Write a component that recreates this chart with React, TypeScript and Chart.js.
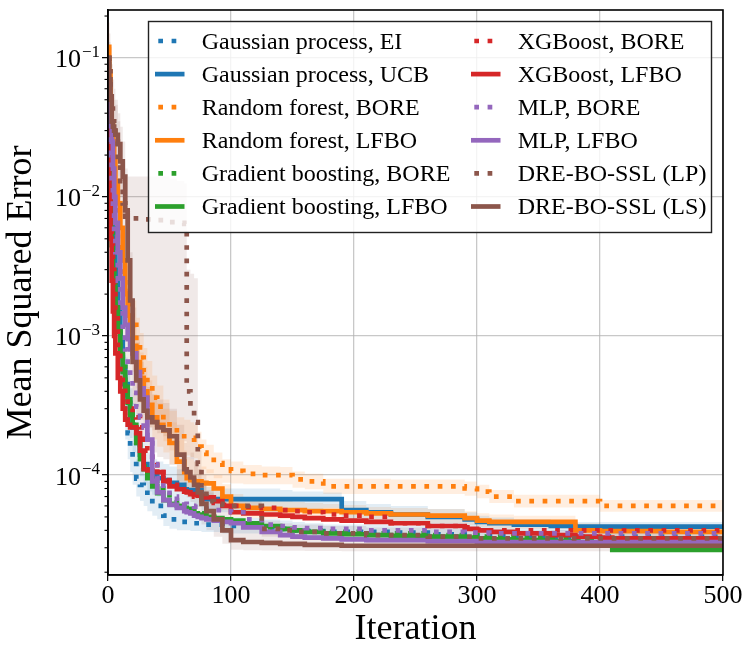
import { useEffect, useRef } from 'react';
import { Chart, registerables, type Plugin } from 'chart.js';

Chart.register(...registerables);

const FONT = '"Liberation Serif", "DejaVu Serif", serif';

// Shared iteration grid (each value holds until the next iteration in the grid)
const ITERS = [
  0, 1, 2, 3, 4, 5, 6,
  8, 10, 12, 14, 16, 18, 20,
  23, 26, 29, 32, 36, 40,
  45, 50, 56, 62, 64, 67, 70, 73, 76, 80,
  86, 93, 100,
  110, 125, 140, 150, 160, 175, 190,
  210, 230, 260, 290, 300, 310, 330, 360, 380, 400, 410, 450, 500,
];

const X_TICK_STEP = 100;
const Y_TICKS = [1e-4, 1e-3, 1e-2, 1e-1];
const Y_MIN = 1.91e-5;
const Y_MAX = 0.221;

// Gaussian process, EI
const GP_EI = [
  9e-2, 4e-2, 1.5e-2, 8e-3, 5e-3, 3e-3, 2e-3,
  1.1e-3, 7e-4, 4.5e-4, 3e-4, 2e-4, 1.6e-4, 1.2e-4,
  9.4e-5, 8.5e-5, 7.8e-5, 7e-5, 6.5e-5, 6e-5,
  5.1e-5, 4.8e-5, 4.6e-5, 4.6e-5, 4.6e-5, 4.5e-5, 4.5e-5, 4.5e-5, 4.4e-5, 4.4e-5,
  4.4e-5, 4.3e-5, 4.3e-5,
  4.3e-5, 4.2e-5, 4.1e-5, 4.0e-5, 3.95e-5, 3.9e-5, 3.9e-5,
  3.9e-5, 3.85e-5, 3.75e-5, 3.7e-5, 3.7e-5, 3.65e-5, 3.65e-5, 3.6e-5, 3.6e-5, 3.6e-5, 3.6e-5, 3.6e-5, 3.6e-5,
];
const GP_EI_HI = [
  1.3e-1, 6e-2, 2.4e-2, 1.3e-2, 8e-3, 5e-3, 3.3e-3,
  1.8e-3, 1.1e-3, 7e-4, 4.6e-4, 3e-4, 2.3e-4, 1.7e-4,
  1.3e-4, 1.12e-4, 1e-4, 9e-5, 8.2e-5, 7.5e-5,
  6.4e-5, 5.9e-5, 5.6e-5, 5.5e-5, 5.5e-5, 5.4e-5, 5.3e-5, 5.3e-5, 5.2e-5, 5.2e-5,
  5.1e-5, 5e-5, 5e-5,
  4.9e-5, 4.8e-5, 4.7e-5, 4.6e-5, 4.5e-5, 4.4e-5, 4.4e-5,
  4.4e-5, 4.3e-5, 4.2e-5, 4.1e-5, 4.1e-5, 4.05e-5, 4e-5, 4e-5, 4e-5, 3.95e-5, 3.95e-5, 3.95e-5, 3.95e-5,
];
const GP_EI_LO = [
  6e-2, 2.5e-2, 9e-3, 4.5e-3, 2.8e-3, 1.7e-3, 1.1e-3,
  6e-4, 4e-4, 2.7e-4, 1.8e-4, 1.3e-4, 1.05e-4, 8.5e-5,
  7e-5, 6.5e-5, 6e-5, 5.5e-5, 5.1e-5, 4.8e-5,
  4.3e-5, 4.1e-5, 4e-5, 4e-5, 4e-5, 3.95e-5, 3.95e-5, 3.95e-5, 3.9e-5, 3.9e-5,
  3.9e-5, 3.8e-5, 3.8e-5,
  3.8e-5, 3.75e-5, 3.65e-5, 3.6e-5, 3.55e-5, 3.5e-5, 3.5e-5,
  3.5e-5, 3.45e-5, 3.35e-5, 3.3e-5, 3.3e-5, 3.28e-5, 3.28e-5, 3.25e-5, 3.25e-5, 3.25e-5, 3.25e-5, 3.25e-5, 3.25e-5,
];

// Gaussian process, UCB
const GP_UCB = [
  8e-2, 5e-2, 2e-2, 1e-2, 6e-3, 4e-3, 3e-3,
  1.6e-3, 9e-4, 6e-4, 4.5e-4, 3.5e-4, 2.8e-4, 2.2e-4,
  1.7e-4, 1.4e-4, 1.2e-4, 1.05e-4, 9.8e-5, 9.5e-5,
  9.2e-5, 8.8e-5, 8.5e-5, 7.9e-5, 7.8e-5, 7.8e-5, 7.8e-5, 7.8e-5, 6.9e-5, 6.7e-5,
  6.7e-5, 6.7e-5, 6.7e-5,
  6.7e-5, 6.7e-5, 6.7e-5, 6.7e-5, 6.7e-5, 6.7e-5, 5.6e-5,
  5.4e-5, 5.2e-5, 5.0e-5, 4.8e-5, 4.6e-5, 4.5e-5, 4.4e-5, 4.3e-5, 4.25e-5, 4.25e-5, 4.25e-5, 4.25e-5, 4.25e-5,
];
const GP_UCB_HI = [
  1.2e-1, 8e-2, 3.5e-2, 1.8e-2, 1e-2, 7e-3, 5e-3,
  2.8e-3, 1.6e-3, 1e-3, 7e-4, 5.3e-4, 4.2e-4, 3.3e-4,
  2.5e-4, 2e-4, 1.7e-4, 1.45e-4, 1.3e-4, 1.25e-4,
  1.2e-4, 1.15e-4, 1.1e-4, 1e-4, 9.8e-5, 9.6e-5, 9.4e-5, 9.3e-5, 8.4e-5, 8.2e-5,
  8.1e-5, 8e-5, 8e-5,
  8e-5, 8e-5, 7.8e-5, 7.6e-5, 7.6e-5, 7.5e-5, 6.5e-5,
  6.2e-5, 6e-5, 5.7e-5, 5.4e-5, 5.1e-5, 4.95e-5, 4.8e-5, 4.7e-5, 4.6e-5, 4.6e-5, 4.6e-5, 4.6e-5, 4.6e-5,
];
const GP_UCB_LO = [
  5e-2, 3e-2, 1.1e-2, 5.5e-3, 3.5e-3, 2.3e-3, 1.8e-3,
  9e-4, 5e-4, 3.5e-4, 2.8e-4, 2.3e-4, 1.85e-4, 1.45e-4,
  1.15e-4, 9.8e-5, 8.5e-5, 7.6e-5, 7.2e-5, 7e-5,
  6.8e-5, 6.5e-5, 6.3e-5, 6e-5, 6e-5, 5.9e-5, 5.9e-5, 5.9e-5, 5.5e-5, 5.4e-5,
  5.4e-5, 5.4e-5, 5.4e-5,
  5.4e-5, 5.4e-5, 5.5e-5, 5.6e-5, 5.7e-5, 5.8e-5, 4.8e-5,
  4.7e-5, 4.5e-5, 4.35e-5, 4.25e-5, 4.1e-5, 4.05e-5, 4e-5, 3.95e-5, 3.9e-5, 3.9e-5, 3.9e-5, 3.9e-5, 3.9e-5,
];

// Random forest, BORE
const RF_BORE = [
  1e-1, 7e-2, 4e-2, 2.5e-2, 1.6e-2, 1.1e-2, 8e-3,
  5e-3, 3.5e-3, 2.6e-3, 2.1e-3, 1.7e-3, 1.4e-3, 1.2e-3,
  9e-4, 7e-4, 5.5e-4, 4.5e-4, 3.6e-4, 3.1e-4,
  2.5e-4, 2.1e-4, 1.9e-4, 1.9e-4, 1.9e-4, 1.85e-4, 1.8e-4, 1.6e-4, 1.45e-4, 1.35e-4,
  1.22e-4, 1.1e-4, 1.07e-4,
  1.02e-4, 1e-4, 1e-4, 9.3e-5, 9e-5, 8.3e-5, 8.3e-5,
  8.3e-5, 8.3e-5, 8.3e-5, 8e-5, 7.6e-5, 7e-5, 6.5e-5, 6.5e-5, 6.5e-5, 6e-5, 6e-5, 6e-5, 6e-5,
];
const RF_BORE_HI = [
  1.5e-1, 1.1e-1, 6.5e-2, 4e-2, 2.6e-2, 1.8e-2, 1.3e-2,
  8e-3, 5.5e-3, 4e-3, 3.2e-3, 2.6e-3, 2.1e-3, 1.8e-3,
  1.35e-3, 1.05e-3, 8.2e-4, 6.6e-4, 5.2e-4, 4.4e-4,
  3.5e-4, 2.9e-4, 2.6e-4, 2.5e-4, 2.5e-4, 2.4e-4, 2.3e-4, 2.05e-4, 1.8e-4, 1.65e-4,
  1.45e-4, 1.3e-4, 1.25e-4,
  1.18e-4, 1.15e-4, 1.14e-4, 1.06e-4, 1.02e-4, 9.4e-5, 9.4e-5,
  9.4e-5, 9.3e-5, 9.3e-5, 9e-5, 8.5e-5, 7.8e-5, 7.2e-5, 7.2e-5, 7.2e-5, 6.6e-5, 6.6e-5, 6.6e-5, 6.6e-5,
];
const RF_BORE_LO = [
  6.5e-2, 4.5e-2, 2.5e-2, 1.5e-2, 9.5e-3, 6.5e-3, 4.8e-3,
  3e-3, 2.1e-3, 1.6e-3, 1.3e-3, 1.05e-3, 8.8e-4, 7.6e-4,
  5.8e-4, 4.6e-4, 3.6e-4, 3e-4, 2.45e-4, 2.15e-4,
  1.75e-4, 1.5e-4, 1.38e-4, 1.38e-4, 1.38e-4, 1.35e-4, 1.32e-4, 1.2e-4, 1.1e-4, 1.03e-4,
  9.5e-5, 8.8e-5, 8.7e-5,
  8.6e-5, 8.6e-5, 8.6e-5, 8.1e-5, 7.9e-5, 7.3e-5, 7.3e-5,
  7.3e-5, 7.3e-5, 7.3e-5, 7.1e-5, 6.8e-5, 6.3e-5, 5.85e-5, 5.85e-5, 5.85e-5, 5.45e-5, 5.45e-5, 5.45e-5, 5.45e-5,
];

// Random forest, LFBO
const RF_LFBO = [
  1.2e-1, 8e-2, 5e-2, 3.5e-2, 2.5e-2, 1.8e-2, 1.3e-2,
  9e-3, 6e-3, 3.5e-3, 2e-3, 1.4e-3, 1.1e-3, 8.5e-4,
  6.5e-4, 5e-4, 4e-4, 3.2e-4, 2.6e-4, 2.3e-4,
  2.1e-4, 1.7e-4, 1.25e-4, 1.05e-4, 9.5e-5, 9.2e-5, 9e-5, 9e-5, 8.8e-5, 8.7e-5,
  8e-5, 7e-5, 6e-5,
  5.8e-5, 5.7e-5, 5.6e-5, 5.6e-5, 5.5e-5, 5.5e-5, 5.4e-5,
  5.3e-5, 5.2e-5, 5.1e-5, 4.9e-5, 4.7e-5, 4.6e-5, 4.6e-5, 4.6e-5, 4.0e-5, 3.95e-5, 3.95e-5, 3.9e-5, 3.9e-5,
];
const RF_LFBO_HI = [
  1.8e-1, 1.2e-1, 7.5e-2, 5.2e-2, 3.7e-2, 2.7e-2, 2e-2,
  1.4e-2, 9.5e-3, 5.6e-3, 3.2e-3, 2.2e-3, 1.7e-3, 1.3e-3,
  1e-3, 7.6e-4, 6e-4, 4.8e-4, 3.8e-4, 3.3e-4,
  3e-4, 2.4e-4, 1.8e-4, 1.5e-4, 1.35e-4, 1.3e-4, 1.25e-4, 1.2e-4, 1.15e-4, 1.1e-4,
  1e-4, 8.6e-5, 7.3e-5,
  6.9e-5, 6.7e-5, 6.5e-5, 6.4e-5, 6.3e-5, 6.2e-5, 6.1e-5,
  5.9e-5, 5.8e-5, 5.7e-5, 5.5e-5, 5.3e-5, 5.2e-5, 5.1e-5, 5.1e-5, 4.5e-5, 4.4e-5, 4.4e-5, 4.3e-5, 4.3e-5,
];
const RF_LFBO_LO = [
  8e-2, 5e-2, 3e-2, 2.2e-2, 1.6e-2, 1.15e-2, 8.5e-3,
  5.5e-3, 3.6e-3, 2.1e-3, 1.25e-3, 8.8e-4, 7e-4, 5.5e-4,
  4.2e-4, 3.3e-4, 2.7e-4, 2.2e-4, 1.8e-4, 1.6e-4,
  1.45e-4, 1.2e-4, 9e-5, 7.6e-5, 7e-5, 6.8e-5, 6.7e-5, 6.7e-5, 6.6e-5, 6.6e-5,
  6.2e-5, 5.6e-5, 5e-5,
  4.9e-5, 4.85e-5, 4.8e-5, 4.8e-5, 4.75e-5, 4.75e-5, 4.7e-5,
  4.65e-5, 4.6e-5, 4.5e-5, 4.35e-5, 4.2e-5, 4.1e-5, 4.1e-5, 4.1e-5, 3.6e-5, 3.55e-5, 3.55e-5, 3.5e-5, 3.5e-5,
];

// Gradient boosting, BORE
const GB_BORE = [
  6e-2, 3e-2, 1.2e-2, 6e-3, 3.5e-3, 2.5e-3, 1.8e-3,
  1.2e-3, 8e-4, 6e-4, 4.5e-4, 3.5e-4, 2.8e-4, 2.3e-4,
  1.8e-4, 1.4e-4, 1.15e-4, 1e-4, 8.8e-5, 8e-5,
  7.2e-5, 6.6e-5, 6.2e-5, 5.9e-5, 5.8e-5, 5.6e-5, 5.5e-5, 5.4e-5, 5.3e-5, 5.2e-5,
  5e-5, 4.8e-5, 4.6e-5,
  4.4e-5, 4.2e-5, 4.1e-5, 4e-5, 4e-5, 3.9e-5, 3.9e-5,
  3.8e-5, 3.8e-5, 3.7e-5, 3.7e-5, 3.6e-5, 3.6e-5, 3.6e-5, 3.55e-5, 3.5e-5, 3.5e-5, 3.5e-5, 3.5e-5, 3.5e-5,
];

// Gradient boosting, LFBO
const GB_LFBO = [
  4e-2, 2e-2, 8e-3, 4.5e-3, 3e-3, 2.2e-3, 1.7e-3,
  1.1e-3, 7.5e-4, 5.5e-4, 4.3e-4, 3.3e-4, 2.7e-4, 2.3e-4,
  1.7e-4, 1.3e-4, 1.1e-4, 9.5e-5, 8.3e-5, 7.4e-5,
  6.6e-5, 6.2e-5, 6e-5, 5.8e-5, 5.7e-5, 5.5e-5, 5.3e-5, 5.2e-5, 5.1e-5, 5e-5,
  4.9e-5, 4.8e-5, 4.7e-5,
  4.5e-5, 4.3e-5, 4.1e-5, 4e-5, 3.9e-5, 3.8e-5, 3.75e-5,
  3.7e-5, 3.65e-5, 3.6e-5, 3.55e-5, 3.5e-5, 3.45e-5, 3.4e-5, 3.35e-5, 3.3e-5, 3.3e-5, 2.9e-5, 2.9e-5, 2.9e-5,
];

// XGBoost, BORE
const XGB_BORE = [
  5e-2, 2.5e-2, 1e-2, 5e-3, 3e-3, 2e-3, 1.4e-3,
  8e-4, 5.5e-4, 4.2e-4, 3.6e-4, 3.2e-4, 3e-4, 2.8e-4,
  2.6e-4, 2.2e-4, 1.8e-4, 1.5e-4, 1.25e-4, 1.05e-4,
  9.2e-5, 8.5e-5, 8e-5, 7.6e-5, 7.4e-5, 7.2e-5, 7e-5, 6.8e-5, 6.6e-5, 6.5e-5,
  6.3e-5, 6.1e-5, 6e-5,
  5.9e-5, 5.8e-5, 5.6e-5, 5.5e-5, 5.4e-5, 5.2e-5, 5.1e-5,
  5e-5, 4.5e-5, 4.3e-5, 4.2e-5, 4.05e-5, 4e-5, 4e-5, 4e-5, 4e-5, 4e-5, 4e-5, 4e-5, 4e-5,
];

// XGBoost, LFBO
const XGB_LFBO = [
  3e-2, 1.2e-2, 5e-3, 2.5e-3, 1.5e-3, 1e-3, 7.5e-4,
  5e-4, 4e-4, 3e-4, 2.5e-4, 2.3e-4, 2.2e-4, 2.2e-4,
  2e-4, 1.5e-4, 1.1e-4, 1.08e-4, 1.06e-4, 1.05e-4,
  9e-5, 8.3e-5, 7.9e-5, 7.6e-5, 7.5e-5, 7.3e-5, 7.2e-5, 7.1e-5, 7e-5, 6.9e-5,
  6.5e-5, 6e-5, 5.4e-5,
  5.3e-5, 5.2e-5, 5.1e-5, 5e-5, 4.9e-5, 4.8e-5, 4.7e-5,
  4.6e-5, 4.5e-5, 4.3e-5, 4.1e-5, 4e-5, 3.9e-5, 3.8e-5, 3.7e-5, 3.6e-5, 3.55e-5, 3.5e-5, 3.5e-5, 3.45e-5,
];

// MLP, BORE
const MLP_BORE = [
  5e-2, 3.5e-2, 2e-2, 1.2e-2, 8e-3, 5.5e-3, 4e-3,
  2.5e-3, 1.6e-3, 1.1e-3, 8e-4, 6e-4, 4.8e-4, 3.9e-4,
  3.1e-4, 2.6e-4, 2.2e-4, 1.7e-4, 1.2e-4, 9.5e-5,
  7.8e-5, 7e-5, 6.5e-5, 6.2e-5, 6.1e-5, 6e-5, 5.9e-5, 5.8e-5, 5.7e-5, 5.6e-5,
  5.6e-5, 5.5e-5, 5.4e-5,
  4.8e-5, 4.4e-5, 4.3e-5, 4.2e-5, 4.15e-5, 4.1e-5, 4.1e-5,
  4e-5, 4e-5, 3.9e-5, 3.85e-5, 3.85e-5, 3.8e-5, 3.8e-5, 3.8e-5, 3.8e-5, 3.8e-5, 3.8e-5, 3.8e-5, 3.8e-5,
];

// MLP, LFBO
const MLP_LFBO = [
  5e-2, 4e-2, 3.5e-2, 2.5e-2, 1.6e-2, 1e-2, 6.5e-3,
  4e-3, 2.6e-3, 1.6e-3, 1.2e-3, 9.5e-4, 8e-4, 7.5e-4,
  5.5e-4, 4.2e-4, 3.6e-4, 1.8e-4, 9e-5, 7.5e-5,
  6.6e-5, 6.1e-5, 5.8e-5, 5.5e-5, 5.4e-5, 5.3e-5, 5.1e-5, 5e-5, 4.9e-5, 4.8e-5,
  4.7e-5, 4.6e-5, 4.5e-5,
  4.2e-5, 3.9e-5, 3.7e-5, 3.6e-5, 3.55e-5, 3.5e-5, 3.45e-5,
  3.4e-5, 3.4e-5, 3.35e-5, 3.35e-5, 3.3e-5, 3.3e-5, 3.3e-5, 3.3e-5, 3.3e-5, 3.3e-5, 3.3e-5, 3.3e-5, 3.3e-5,
];

// DRE-BO-SSL (LP)
const DRE_LP = [
  1e-1, 8e-2, 6e-2, 4.5e-2, 3.5e-2, 3e-2, 2.5e-2,
  1.8e-2, 1.3e-2, 9e-3, 7.2e-3, 7.1e-3, 7e-3, 7e-3,
  7e-3, 7e-3, 6.9e-3, 6.9e-3, 6.8e-3, 6.8e-3,
  6.7e-3, 6.6e-3, 6.5e-3, 6.4e-3, 4e-4, 3e-4, 2.4e-4, 1.2e-4, 8e-5, 6.5e-5,
  6.2e-5, 6.1e-5, 6e-5,
  6e-5, 4.1e-5, 4e-5, 3.9e-5, 3.9e-5, 3.8e-5, 3.8e-5,
  3.7e-5, 3.7e-5, 3.6e-5, 3.6e-5, 3.5e-5, 3.5e-5, 3.5e-5, 3.5e-5, 3.5e-5, 3.5e-5, 3.5e-5, 3.5e-5, 3.5e-5,
];
const DRE_LP_HI = [
  1.8e-1, 1.5e-1, 1.2e-1, 9e-2, 7e-2, 6e-2, 5e-2,
  3.5e-2, 2.5e-2, 1.8e-2, 1.45e-2, 1.4e-2, 1.4e-2, 1.4e-2,
  1.4e-2, 1.4e-2, 1.4e-2, 1.4e-2, 1.4e-2, 1.4e-2,
  1.4e-2, 1.35e-2, 1.3e-2, 1.25e-2, 3e-3, 2.8e-3, 2.6e-3, 1.5e-4, 1e-4, 7.5e-5,
  7e-5, 6.8e-5, 6.7e-5,
  6.6e-5, 4.7e-5, 4.5e-5, 4.4e-5, 4.4e-5, 4.3e-5, 4.3e-5,
  4.2e-5, 4.2e-5, 4.1e-5, 4.1e-5, 4e-5, 4e-5, 4e-5, 4e-5, 4e-5, 4e-5, 4e-5, 4e-5, 4e-5,
];
const DRE_LP_LO = [
  5e-2, 3.5e-2, 2.5e-2, 1.5e-2, 9e-3, 6e-3, 4e-3,
  2.2e-3, 1.3e-3, 8e-4, 5.5e-4, 4.2e-4, 3.5e-4, 3e-4,
  2.7e-4, 2.5e-4, 2.3e-4, 2.2e-4, 2.1e-4, 2e-4,
  1.9e-4, 1.85e-4, 1.8e-4, 1.75e-4, 1.6e-4, 1.3e-4, 1e-4, 8.5e-5, 6.5e-5, 5.6e-5,
  5.5e-5, 5.4e-5, 5.4e-5,
  5.3e-5, 3.6e-5, 3.55e-5, 3.45e-5, 3.45e-5, 3.35e-5, 3.35e-5,
  3.25e-5, 3.25e-5, 3.15e-5, 3.15e-5, 3.1e-5, 3.1e-5, 3.1e-5, 3.1e-5, 3.1e-5, 3.1e-5, 3.1e-5, 3.1e-5, 3.1e-5,
];

// DRE-BO-SSL (LS)
const DRE_LS = [
  1e-1, 7e-2, 5e-2, 3.5e-2, 3.2e-2, 3e-2, 2.8e-2,
  2.4e-2, 1.8e-2, 1.4e-2, 8e-3, 3.5e-3, 1.8e-3, 6.5e-4,
  4.8e-4, 3.5e-4, 2.9e-4, 2.6e-4, 2.4e-4, 2.2e-4,
  2.1e-4, 1.9e-4, 1.4e-4, 1.1e-4, 1.05e-4, 9.6e-5, 8.5e-5, 7.5e-5, 6.2e-5, 5.5e-5,
  4.8e-5, 4e-5, 3.4e-5,
  3.3e-5, 3.25e-5, 3.2e-5, 3.2e-5, 3.15e-5, 3.15e-5, 3.1e-5,
  3.1e-5, 3.1e-5, 3.1e-5, 3.1e-5, 3.1e-5, 3.1e-5, 3.1e-5, 3.1e-5, 3.1e-5, 3.1e-5, 3.1e-5, 3.1e-5, 3.1e-5,
];
const DRE_LS_HI = [
  1.8e-1, 1.3e-1, 9e-2, 6.5e-2, 5.5e-2, 5e-2, 4.6e-2,
  4e-2, 3.2e-2, 2.5e-2, 1.6e-2, 8e-3, 4e-3, 1.6e-3,
  9e-4, 6.5e-4, 5e-4, 4.3e-4, 3.8e-4, 3.5e-4,
  3.3e-4, 3e-4, 2.3e-4, 1.7e-4, 1.6e-4, 1.45e-4, 1.25e-4, 1.1e-4, 9e-5, 7.8e-5,
  6.6e-5, 5.4e-5, 4.4e-5,
  4.1e-5, 3.9e-5, 3.8e-5, 3.75e-5, 3.7e-5, 3.65e-5, 3.6e-5,
  3.55e-5, 3.5e-5, 3.5e-5, 3.45e-5, 3.45e-5, 3.4e-5, 3.4e-5, 3.4e-5, 3.4e-5, 3.4e-5, 3.4e-5, 3.4e-5, 3.4e-5,
];
const DRE_LS_LO = [
  6e-2, 4e-2, 2.8e-2, 2e-2, 1.8e-2, 1.7e-2, 1.6e-2,
  1.4e-2, 1e-2, 7e-3, 3.5e-3, 1.5e-3, 8e-4, 3.2e-4,
  2.6e-4, 2e-4, 1.7e-4, 1.55e-4, 1.45e-4, 1.35e-4,
  1.3e-4, 1.18e-4, 8.8e-5, 7.2e-5, 6.9e-5, 6.4e-5, 5.8e-5, 5.2e-5, 4.4e-5, 4e-5,
  3.6e-5, 3.2e-5, 2.9e-5,
  2.88e-5, 2.86e-5, 2.85e-5, 2.85e-5, 2.84e-5, 2.84e-5, 2.83e-5,
  2.83e-5, 2.83e-5, 2.83e-5, 2.83e-5, 2.83e-5, 2.83e-5, 2.83e-5, 2.83e-5, 2.83e-5, 2.83e-5, 2.83e-5, 2.83e-5, 2.83e-5,
];

type Series = {
  label: string;
  color: string;
  dotted: boolean;
  values: number[];
  band?: [number[], number[]];
};

const SERIES: Series[] = [
  { label: 'Gaussian process, EI', color: '#1f77b4', dotted: true, values: GP_EI, band: [GP_EI_LO, GP_EI_HI] },
  { label: 'Gaussian process, UCB', color: '#1f77b4', dotted: false, values: GP_UCB, band: [GP_UCB_LO, GP_UCB_HI] },
  { label: 'Random forest, BORE', color: '#ff7f0e', dotted: true, values: RF_BORE, band: [RF_BORE_LO, RF_BORE_HI] },
  { label: 'Random forest, LFBO', color: '#ff7f0e', dotted: false, values: RF_LFBO, band: [RF_LFBO_LO, RF_LFBO_HI] },
  { label: 'Gradient boosting, BORE', color: '#2ca02c', dotted: true, values: GB_BORE },
  { label: 'Gradient boosting, LFBO', color: '#2ca02c', dotted: false, values: GB_LFBO },
  { label: 'XGBoost, BORE', color: '#d62728', dotted: true, values: XGB_BORE },
  { label: 'XGBoost, LFBO', color: '#d62728', dotted: false, values: XGB_LFBO },
  { label: 'MLP, BORE', color: '#9467bd', dotted: true, values: MLP_BORE },
  { label: 'MLP, LFBO', color: '#9467bd', dotted: false, values: MLP_LFBO },
  { label: 'DRE-BO-SSL (LP)', color: '#8c564b', dotted: true, values: DRE_LP, band: [DRE_LP_LO, DRE_LP_HI] },
  { label: 'DRE-BO-SSL (LS)', color: '#8c564b', dotted: false, values: DRE_LS, band: [DRE_LS_LO, DRE_LS_HI] },
];

const LINE_W = 4.7;
const DOT = [4.7, 8.6];

function alpha(hex: string, a: number) {
  const n = parseInt(hex.slice(1), 16);
  return `rgba(${(n >> 16) & 255},${(n >> 8) & 255},${n & 255},${a})`;
}

const toPoints = (vals: number[]) => ITERS.map((x, i) => ({ x, y: vals[i] }));

// frame, minor ticks, y labels with exponents, in-axes legend
const decorations: Plugin<'line'> = {
  id: 'decorations',
  afterDatasetsDraw(chart) {
    const { ctx, chartArea: a } = chart;
    const ys = chart.scales.y;
    ctx.save();

    ctx.strokeStyle = '#000';
    ctx.lineWidth = 1.6;
    ctx.strokeRect(a.left, a.top, a.right - a.left, a.bottom - a.top);

    ctx.lineWidth = 1.1;
    for (let k = -5; k <= 0; k++) {
      for (let m = 2; m <= 9; m++) {
        const v = m * 10 ** k;
        if (v < Y_MIN || v > Y_MAX) continue;
        const py = ys.getPixelForValue(v);
        ctx.beginPath();
        ctx.moveTo(a.left - 3.5, py);
        ctx.lineTo(a.left, py);
        ctx.stroke();
      }
    }

    ctx.fillStyle = '#000';
    ctx.textAlign = 'right';
    ctx.textBaseline = 'alphabetic';
    for (const v of Y_TICKS) {
      const py = ys.getPixelForValue(v);
      const exp = `\u2212${Math.round(-Math.log10(v))}`;
      ctx.font = `17px ${FONT}`;
      const ew = ctx.measureText(exp).width;
      ctx.fillText(exp, a.left - 8, py - 1);
      ctx.font = `26px ${FONT}`;
      ctx.fillText('10', a.left - 9 - ew, py + 9.5);
    }

    // legend
    const bx = a.left + 40.5;
    const by = a.top + 11.5;
    ctx.fillStyle = 'rgba(255,255,255,0.8)';
    ctx.fillRect(bx, by, 563, 211);
    ctx.strokeStyle = '#222';
    ctx.lineWidth = 1.4;
    ctx.strokeRect(bx, by, 563, 211);

    ctx.font = `24px ${FONT}`;
    ctx.textAlign = 'left';
    SERIES.forEach((s, i) => {
      const col = Math.floor(i / 6);
      const row = i % 6;
      const cy = by + 19.5 + row * 33.1;
      const hx = bx + 6.5 + col * 316;
      ctx.strokeStyle = s.color;
      ctx.lineWidth = LINE_W;
      ctx.lineCap = 'butt';
      ctx.setLineDash(s.dotted ? DOT : []);
      ctx.lineDashOffset = s.dotted ? -3.3 : 0;
      ctx.beginPath();
      ctx.moveTo(hx, cy);
      ctx.lineTo(hx + 29.5, cy);
      ctx.stroke();
      ctx.setLineDash([]);
      ctx.fillStyle = '#000';
      ctx.fillText(s.label, hx + 46.7, cy + 7.5);
    });

    ctx.restore();
  },
};

export default function App() {
  const canvasRef = useRef<HTMLCanvasElement | null>(null);

  useEffect(() => {
    document.body.style.margin = '0';
    const canvas = canvasRef.current;
    if (!canvas) return;

    const datasets: any[] = [];
    SERIES.forEach((s) => {
      if (!s.band) return;
      const [lo, hi] = s.band;
      datasets.push({
        data: toPoints(lo),
        borderColor: 'transparent',
        borderWidth: 0,
        pointRadius: 0,
        stepped: 'before',
        fill: false,
        order: 50,
      });
      datasets.push({
        data: toPoints(hi),
        borderColor: 'transparent',
        borderWidth: 0,
        pointRadius: 0,
        stepped: 'before',
        fill: '-1',
        backgroundColor: alpha(s.color, 0.13),
        order: 50,
      });
    });
    SERIES.forEach((s, i) => {
      datasets.push({
        label: s.label,
        data: toPoints(s.values),
        borderColor: s.color,
        borderWidth: LINE_W,
        borderDash: s.dotted ? DOT : [],
        borderCapStyle: 'butt',
        borderJoinStyle: 'miter',
        pointRadius: 0,
        stepped: 'before',
        fill: false,
        order: 30 - i,
      });
    });

    const gridColor = 'rgba(176,176,176,0.7)';

    const chart = new Chart(canvas, {
      type: 'line',
      data: { datasets },
      options: {
        animation: false,
        responsive: true,
        maintainAspectRatio: false,
        events: [],
        layout: { padding: { left: 0, right: 30, top: 10, bottom: 0 } },
        plugins: {
          legend: { display: false },
          tooltip: { enabled: false },
          filler: { drawTime: 'beforeDatasetsDraw' },
        },
        scales: {
          x: {
            type: 'linear',
            min: 0,
            max: 500,
            afterFit: (scale) => {
              scale.height = 83;
            },
            ticks: {
              stepSize: X_TICK_STEP,
              color: '#000',
              padding: 0,
              font: { family: FONT, size: 26 },
            },
            grid: {
              color: gridColor,
              lineWidth: 1.3,
              tickLength: 6,
              tickColor: '#000',
              tickWidth: 1.2,
            },
            border: { color: '#000', width: 1.6 },
            title: {
              display: true,
              text: 'Iteration',
              color: '#000',
              font: { family: FONT, size: 36 },
              padding: { top: 0, bottom: 7 },
            },
          },
          y: {
            type: 'logarithmic',
            min: Y_MIN,
            max: Y_MAX,
            afterFit: (scale) => {
              scale.width = 108;
            },
            afterBuildTicks: (scale) => {
              scale.ticks = Y_TICKS.map((value) => ({ value }));
            },
            ticks: { display: false },
            grid: {
              color: gridColor,
              lineWidth: 1.3,
              tickLength: 6,
              tickColor: '#000',
              tickWidth: 1.2,
            },
            border: { color: '#000', width: 1.6 },
            title: {
              display: true,
              text: 'Mean Squared Error',
              color: '#000',
              font: { family: FONT, size: 36 },
              padding: { top: 0, bottom: 0 },
            },
          },
        },
      },
      plugins: [decorations],
    });

    return () => chart.destroy();
  }, []);

  return (
    <div style={{ position: 'relative', width: 753, height: 658 }}>
      <canvas ref={canvasRef} role="img" aria-label="Mean squared error versus iteration" />
    </div>
  );
}
